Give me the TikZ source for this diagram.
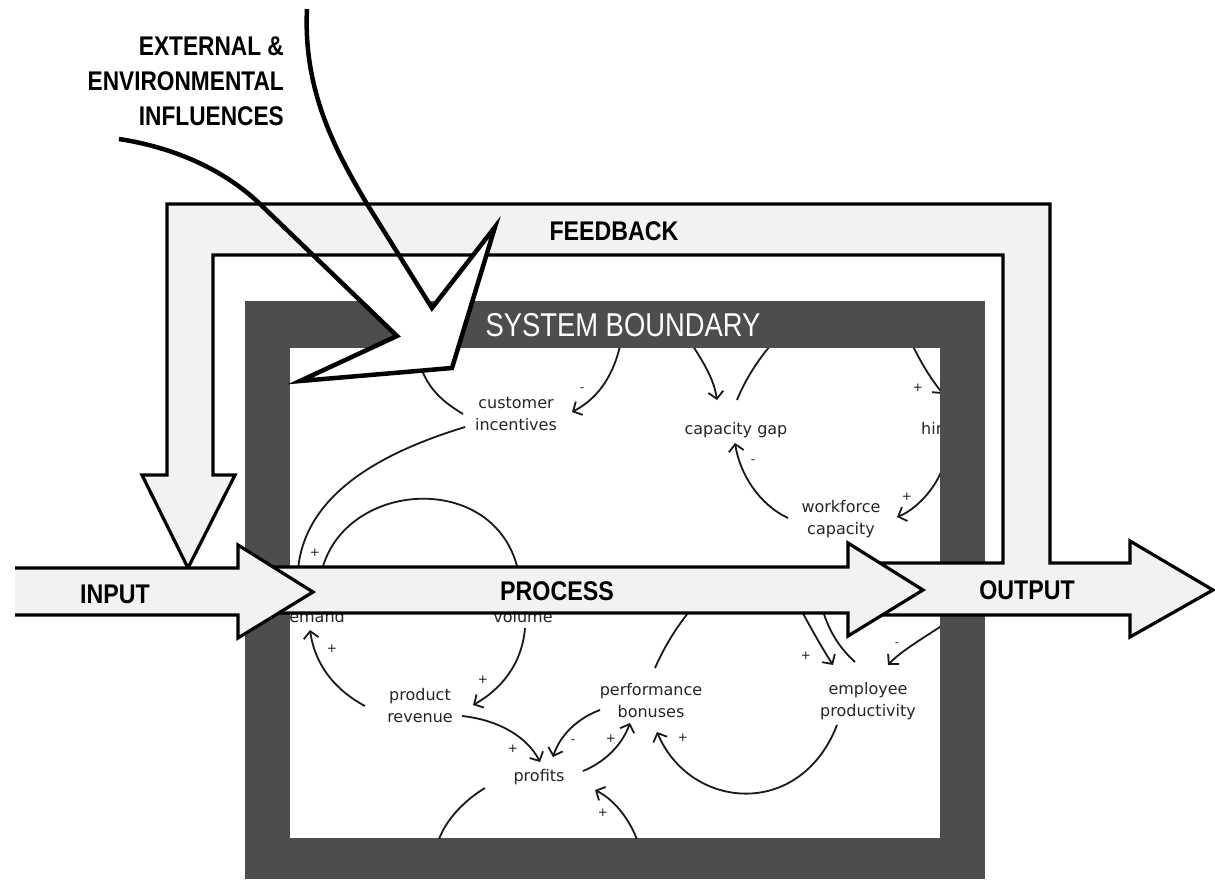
\documentclass[tikz,border=0pt]{standalone}
\usepackage{fontspec}
\setmainfont{Liberation Sans}
\newfontfamily\cldfont{DejaVu Sans}
\usetikzlibrary{arrows.meta}
\definecolor{bound}{HTML}{4D4D4D}
\definecolor{band}{HTML}{F2F2F2}
\tikzset{
  bigarrow/.style={fill=band, draw=black, line width=3.2pt, line join=miter},
  link/.style={line width=1.8pt, draw=black!90},
  linkarr/.style={link, -{Straight Barb[length=7pt,width=15pt]}},
  cld/.style={font=\cldfont\fontsize{16}{22}\selectfont, text=black!85, align=center, inner sep=0pt},
  sgn/.style={font=\cldfont\fontsize{12}{12}\selectfont, text=black!90, inner sep=0pt},
  lab/.style={font=\bfseries\fontsize{27}{35}\selectfont, inner sep=0pt},
}
\begin{document}
\begin{tikzpicture}[x=1pt,y=-1pt]
\useasboundingbox (0,0) rectangle (1215,879);
\fill[white] (0,0) rectangle (1215,879);
% system boundary
\fill[bound] (245,301) rectangle (985,879);
\fill[white] (290,348) rectangle (940,838);
\node[font=\fontsize{33}{33}\selectfont, text=white, inner sep=0pt] (sb) at (623,325) {\scalebox{0.83}[1]{SYSTEM BOUNDARY}};
% causal loop diagram inside
\begin{scope}
\clip (290,348) rectangle (940,838);
\node[cld] (ci) at (516,414) {customer\\incentives};
\node[cld] (cg) at (736,430) {capacity gap};
\node[cld, anchor=west] (hi) at (921,430) {hiring};
\node[cld] (wc) at (841,519) {workforce\\capacity};
\node[cld] (dem) at (312,617) {demand};
\node[cld] (vol) at (523,617) {volume};
\node[cld] (pr) at (420,706) {product\\revenue};
\node[cld] (prof) at (539,777) {profits};
\node[cld] (pb) at (651,701) {performance\\bonuses};
\node[cld] (ep) at (868,701) {employee\\productivity};
\coordinate (t1) at (415,346);
\coordinate (t2) at (620,346);
\coordinate (t3) at (693,346);
\coordinate (t4) at (770,346);
\coordinate (t5) at (913,346);
\coordinate (r1) at (943,467);
\coordinate (r2) at (943,625);
\coordinate (b1) at (438,842);
\coordinate (b2) at (638,842);
\coordinate (p1) at (298,570);
\coordinate (p2) at (322,570);
\coordinate (p3) at (518,570);
\coordinate (p4) at (692,608);
\coordinate (p5) at (800,608);
\coordinate (p6) at (822,608);
\coordinate (hiE) at (943,394);
\draw[link] (463,414) .. controls (440,400) and (422,385) .. (t1);
\draw[linkarr] (t2) .. controls (612,380) and (595,400) .. (572,412);
\draw[link] (465,427) .. controls (390,450) and (305,490) .. (p1);
\draw[link] (p2) .. controls (345,480) and (495,470) .. (p3);
\draw[linkarr] (525,628) .. controls (522,665) and (500,690) .. (473,705);
\draw[linkarr] (365,706) .. controls (335,690) and (315,665) .. (310,630);
\draw[linkarr] (462,716) .. controls (500,720) and (528,738) .. (540,762);
\draw[linkarr] (600,710) .. controls (578,718) and (560,735) .. (553,757);
\draw[linkarr] (583,771) .. controls (605,762) and (622,745) .. (630,723);
\draw[linkarr] (b2) .. controls (630,820) and (615,800) .. (595,790);
\draw[link] (485,788) .. controls (465,800) and (445,820) .. (b1);
\draw[link] (655,668) .. controls (665,645) and (678,625) .. (p4);
\draw[linkarr] (837,725) .. controls (800,820) and (690,810) .. (657,732);
\draw[linkarr] (p5) .. controls (812,630) and (822,648) .. (833,665);
\draw[link] (p6) .. controls (830,635) and (842,650) .. (855,662);
\draw[linkarr] (r2) .. controls (920,640) and (900,652) .. (888,665);
\draw[linkarr] (788,518) .. controls (760,505) and (740,475) .. (735,443);
\draw[linkarr] (t3) .. controls (705,365) and (714,380) .. (717,400);
\draw[link] (737,400) .. controls (745,380) and (758,360) .. (t4);
\draw[linkarr] (t5) .. controls (922,365) and (932,380) .. (hiE);
\draw[linkarr] (r1) .. controls (935,490) and (915,510) .. (897,517);
\node[sgn] (s1) at (582,390) {-};
\node[sgn] (s2) at (315,553) {+};
\node[sgn] (s3) at (483,680) {+};
\node[sgn] (s4) at (332,649) {+};
\node[sgn] (s5) at (513,749) {+};
\node[sgn] (s6) at (573,742) {-};
\node[sgn] (s7) at (611,739) {+};
\node[sgn] (s8) at (603,813) {+};
\node[sgn] (s9) at (683,738) {+};
\node[sgn] (s10) at (806,656) {+};
\node[sgn] (s11) at (897,645) {-};
\node[sgn] (s12) at (753,462) {-};
\node[sgn] (s13) at (918,388) {+};
\node[sgn] (s14) at (907,497) {+};
\end{scope}
% feedback + output arrow
\draw[bigarrow] (1003,563) -- (1003,255) -- (213,255) -- (213,475) -- (235,475) -- (188,568)
  -- (142,475) -- (167,475) -- (167,204) -- (1050,204) -- (1050,563) -- (1130,563)
  -- (1130,541) -- (1213,590) -- (1130,637) -- (1130,615) -- (870,615) -- (870,563) -- cycle;
% process arrow
\draw[bigarrow] (268,567) -- (848,567) -- (848,543) -- (923,590) -- (848,636) -- (848,613) -- (268,613) -- cycle;
% input arrow
\fill[band] (15,568) -- (238,568) -- (238,545) -- (313,592) -- (238,638) -- (238,615) -- (15,615) -- cycle;
\draw[line width=3.2pt, line join=miter] (15,568) -- (238,568) -- (238,545) -- (313,592) -- (238,638) -- (238,615) -- (15,615);
% external influences arrow
\begin{scope}
\clip (0,258) rectangle (1215,879);
\fill[white] (119,139) .. controls (190,150) and (235,180) .. (260,204) -- (397,336) -- (300,381)
  -- (452,368) -- (495,227) -- (432,308) -- (367,204) .. controls (335,150) and (303,90) .. (307,9) -- cycle;
\end{scope}
\fill[white] (397,336) -- (300,381) -- (452,368) -- (495,227) -- (432,308) -- cycle;
\draw[line width=4.5pt, line join=miter] (119,139) .. controls (190,150) and (235,180) .. (260,204) -- (397,336) -- (300,381)
  -- (452,368) -- (495,227) -- (432,308) -- (367,204) .. controls (335,150) and (303,90) .. (307,9);
% labels
\node[lab, anchor=east] (ext) at (284,83) {\scalebox{0.84}[1]{\begin{tabular}{@{}r@{}}EXTERNAL \&\\ENVIRONMENTAL\\INFLUENCES\end{tabular}}};
\node[lab] (fb) at (614,231) {\scalebox{0.86}[1]{FEEDBACK}};
\node[lab] (in) at (115,594) {\scalebox{0.86}[1]{INPUT}};
\node[lab] (proc) at (557,591) {\scalebox{0.86}[1]{PROCESS}};
\node[lab] (out) at (1027,590) {\scalebox{0.86}[1]{OUTPUT}};
\end{tikzpicture}
\end{document}
